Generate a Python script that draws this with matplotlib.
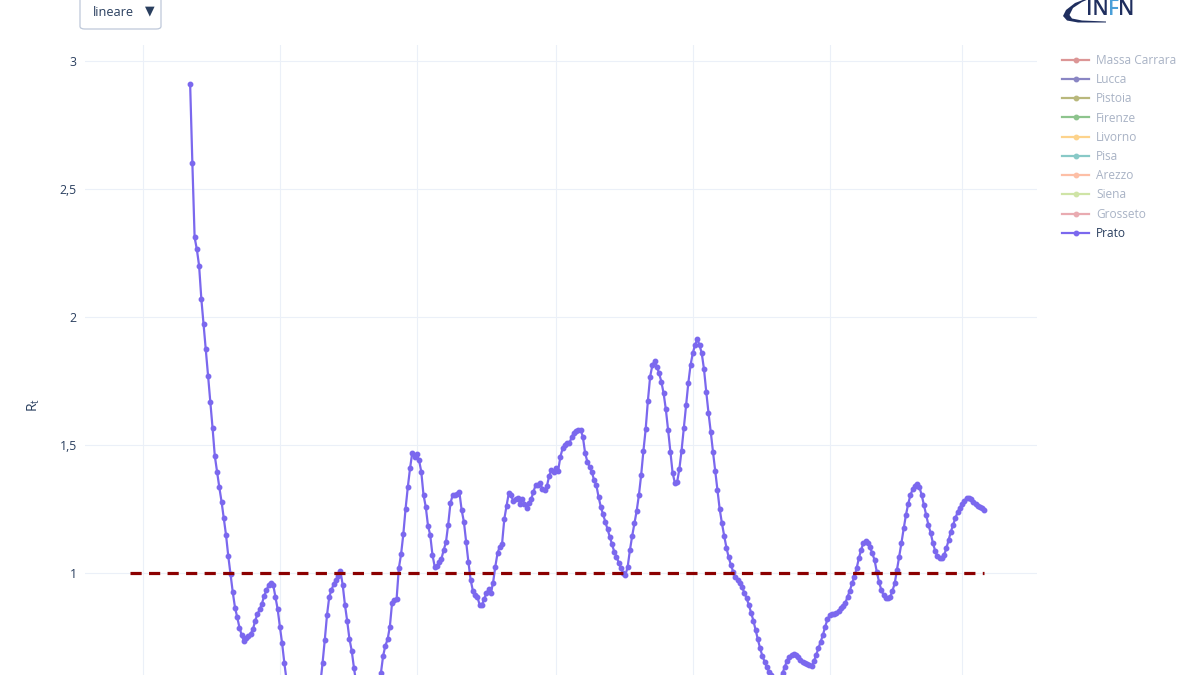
import numpy as np
import matplotlib.pyplot as plt
import matplotlib.dates as mdates
from matplotlib.lines import Line2D
from matplotlib.patches import FancyBboxPatch, Polygon

# Rt of Prato, one value per day from 2020-03-22 (values below 0.6 are off the visible area)
rt_prato = [
    2.911, 2.600, 2.311, 2.264, 2.200, 2.070, 1.971, 1.874, 1.770, 1.669,
    1.566, 1.457, 1.396, 1.335, 1.279, 1.214, 1.148, 1.066, 0.996, 0.925,
    0.865, 0.827, 0.786, 0.757, 0.733, 0.746, 0.753, 0.763, 0.780, 0.814,
    0.839, 0.858, 0.880, 0.911, 0.932, 0.953, 0.960, 0.955, 0.907, 0.859,
    0.790, 0.725, 0.647, 0.580, 0.520, 0.470, 0.440, 0.410, 0.390, 0.380,
    0.370, 0.370, 0.370, 0.380, 0.390, 0.410, 0.440, 0.490, 0.565, 0.647,
    0.738, 0.836, 0.907, 0.934, 0.957, 0.973, 0.990, 1.006, 0.953, 0.875,
    0.812, 0.742, 0.697, 0.630, 0.570, 0.520, 0.480, 0.450, 0.430, 0.420,
    0.420, 0.440, 0.470, 0.510, 0.560, 0.608, 0.676, 0.716, 0.741, 0.790,
    0.884, 0.895, 0.897, 1.018, 1.073, 1.151, 1.250, 1.335, 1.409, 1.470,
    1.452, 1.464, 1.441, 1.396, 1.305, 1.259, 1.185, 1.148, 1.070, 1.025,
    1.027, 1.042, 1.056, 1.090, 1.120, 1.189, 1.272, 1.305, 1.305, 1.309,
    1.315, 1.246, 1.200, 1.122, 1.044, 0.973, 0.931, 0.914, 0.907, 0.876,
    0.875, 0.897, 0.921, 0.936, 0.921, 0.962, 1.025, 1.078, 1.103, 1.113,
    1.210, 1.262, 1.311, 1.305, 1.281, 1.288, 1.293, 1.270, 1.289, 1.270,
    1.255, 1.272, 1.288, 1.318, 1.344, 1.344, 1.353, 1.327, 1.324, 1.340,
    1.379, 1.402, 1.393, 1.409, 1.400, 1.454, 1.487, 1.500, 1.509, 1.507,
    1.530, 1.548, 1.556, 1.559, 1.559, 1.533, 1.470, 1.435, 1.415, 1.396,
    1.363, 1.344, 1.298, 1.259, 1.230, 1.200, 1.171, 1.142, 1.113, 1.083,
    1.064, 1.040, 1.018, 0.999, 0.992, 1.025, 1.090, 1.145, 1.194, 1.243,
    1.305, 1.383, 1.477, 1.561, 1.673, 1.767, 1.812, 1.829, 1.806, 1.780,
    1.747, 1.702, 1.639, 1.559, 1.474, 1.392, 1.353, 1.354, 1.405, 1.478,
    1.565, 1.656, 1.741, 1.812, 1.858, 1.891, 1.913, 1.891, 1.858, 1.796,
    1.708, 1.626, 1.552, 1.474, 1.400, 1.324, 1.249, 1.194, 1.145, 1.099,
    1.061, 1.031, 1.005, 0.986, 0.973, 0.960, 0.944, 0.923, 0.901, 0.875,
    0.845, 0.814, 0.777, 0.741, 0.706, 0.676, 0.654, 0.634, 0.614, 0.600,
    0.588, 0.578, 0.578, 0.590, 0.608, 0.634, 0.657, 0.673, 0.680, 0.682,
    0.680, 0.671, 0.660, 0.654, 0.650, 0.645, 0.642, 0.638, 0.656, 0.680,
    0.706, 0.732, 0.758, 0.790, 0.819, 0.835, 0.840, 0.841, 0.845, 0.853,
    0.862, 0.871, 0.884, 0.907, 0.931, 0.960, 0.986, 1.018, 1.057, 1.090,
    1.116, 1.125, 1.116, 1.100, 1.077, 1.051, 1.005, 0.966, 0.934, 0.914,
    0.901, 0.901, 0.907, 0.931, 0.960, 1.012, 1.064, 1.118, 1.174, 1.227,
    1.270, 1.305, 1.327, 1.340, 1.348, 1.335, 1.305, 1.266, 1.227, 1.188,
    1.157, 1.118, 1.087, 1.066, 1.057, 1.057, 1.070, 1.096, 1.129, 1.161,
    1.188, 1.214, 1.237, 1.255, 1.270, 1.282, 1.292, 1.294, 1.288, 1.279,
    1.270, 1.262, 1.259, 1.253, 1.246,
]
start_date = np.datetime64('2020-03-22')
threshold_start = np.datetime64('2020-02-24')
threshold = 1.0

provinces = ['Massa Carrara', 'Lucca', 'Pistoia', 'Firenze', 'Livorno',
             'Pisa', 'Arezzo', 'Siena', 'Grosseto', 'Prato']
legend_colors = ['#dc9696', '#8a86c4', '#b9b87c', '#8dc48d', '#fdd38c',
                 '#88c9c7', '#fdbfa6', '#cfe4a6', '#e9abb1', '#7b68ee']
yticks = [1, 1.5, 2, 2.5, 3]
ytick_labels = ['1', '1,5', '2', '2,5', '3']

TXT = '#2a3f5f'
GRID = '#ebf0f8'
plt.rcParams['font.family'] = ['Open Sans', 'DejaVu Sans']

dates = start_date + np.arange(len(rt_prato))

fig = plt.figure(figsize=(12, 6.75), dpi=100)
ax = fig.add_axes([85 / 1200, 0, 952 / 1200, 630 / 675])

ax.plot(dates, rt_prato, color='#7b68ee', lw=1.6, marker='o', markersize=3.2, zorder=3)
ax.plot([threshold_start, dates[-1]], [threshold, threshold], color='#8b0000',
        lw=2.3, dashes=(3.5, 2.3), zorder=4)

x0 = mdates.date2num(np.datetime64('2020-03-01'))
x1 = mdates.date2num(np.datetime64('2021-03-01'))
ax.set_xlim(x0 - 25.85, x1 + 33.4)
ax.set_ylim(0.6016, 3.0625)

ax.xaxis.set_major_locator(mdates.MonthLocator(bymonth=[1, 3, 5, 7, 9, 11]))
ax.set_yticks(yticks)
ax.set_yticklabels(ytick_labels)
ax.tick_params(axis='x', length=0, labelbottom=False)
ax.tick_params(axis='y', length=0, pad=6, labelsize=8.8, labelcolor=TXT)
ax.grid(True, color=GRID, lw=0.8)
ax.set_axisbelow(True)
for s in ax.spines.values():
    s.set_visible(False)

ax.text(-0.054, 0.4286, r'R$_\mathregular{t}$', transform=ax.transAxes,
        rotation=90, ha='center', va='center', fontsize=10, color=TXT)

# legend
handles = [Line2D([0], [0], color=c, lw=1.6, marker='o', markersize=3.2)
           for c in legend_colors]
label_colors = ['#a9b3c5'] * 9 + [TXT]
leg = ax.legend(handles, provinces, loc='upper left',
                bbox_to_anchor=(1062 / 1200, 1 - 54 / 675), bbox_transform=fig.transFigure,
                frameon=False, fontsize=8.6, handlelength=2.3, handletextpad=0.55,
                labelspacing=0.52, borderpad=0, borderaxespad=0, labelcolor=label_colors)

# dropdown "lineare"
box = FancyBboxPatch((80 / 1200, 1 - 29 / 675), 81 / 1200, 40 / 675,
                     boxstyle='round,pad=0,rounding_size=0.004', transform=fig.transFigure,
                     facecolor='white', edgecolor='#bec8d9', lw=0.9)
fig.add_artist(box)
fig.text(93 / 1200, 1 - 12 / 675, 'lineare', ha='left', va='center', fontsize=9.2, color=TXT)
fig.text(150 / 1200, 1 - 11 / 675, '▼', ha='center', va='center', fontsize=9, color=TXT,
         family=['DejaVu Sans'])

# INFN logo
lax = fig.add_axes([1060 / 1200, 1 - 25 / 675, 80 / 1200, 25 / 675])
lax.set_xlim(0, 80)
lax.set_ylim(25, 0)
lax.axis('off')
crescent = [(28, -2), (15, 3), (6, 10), (3, 16), (7, 20.5), (18, 22.5), (46, 22.5),
            (46, 21.5), (22, 20.5), (12, 18.5), (9.5, 15), (13, 8), (22, 2), (31, -2)]
lax.add_patch(Polygon(crescent, closed=True, facecolor='#1f2e5e', edgecolor='none'))
lax.text(26, 15, 'IN', ha='left', va='baseline', fontsize=15, fontweight='semibold', color='#1f2e5e')
lax.text(47.5, 15, 'F', ha='left', va='baseline', fontsize=15, fontweight='semibold', color='#4a9fd8')
lax.text(58.5, 15, 'N', ha='left', va='baseline', fontsize=15, fontweight='semibold', color='#1f2e5e')

fig.savefig('out.png', dpi=100, facecolor='white')
